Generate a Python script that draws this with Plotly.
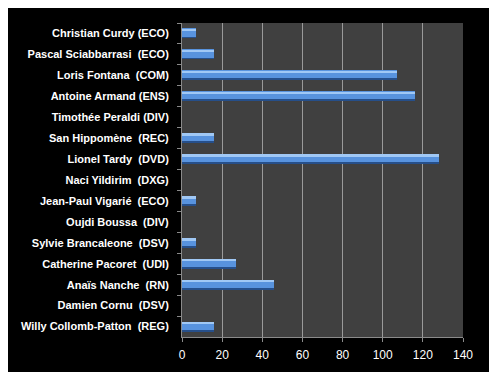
import plotly.graph_objects as go

candidates = [
    "Christian Curdy (ECO)",
    "Pascal Sciabbarrasi  (ECO)",
    "Loris Fontana  (COM)",
    "Antoine Armand (ENS)",
    "Timothée Peraldi (DIV)",
    "San Hippomène  (REC)",
    "Lionel Tardy  (DVD)",
    "Naci Yildirim  (DXG)",
    "Jean-Paul Vigarié  (ECO)",
    "Oujdi Boussa  (DIV)",
    "Sylvie Brancaleone  (DSV)",
    "Catherine Pacoret  (UDI)",
    "Anaïs Nanche  (RN)",
    "Damien Cornu  (DSV)",
    "Willy Collomb-Patton  (REG)",
]
votes = [7, 16, 107, 116, 0, 16, 128, 0, 7, 0, 7, 27, 46, 0, 16]
x_ticks = [0, 20, 40, 60, 80, 100, 120, 140]

# figure sits inside the page's default 8px body margin
W, H = 481, 364
L, R, T, B = 173.7, 455.0, 15.0, 329.0

fig = go.Figure()
# dark bottom edge
fig.add_trace(go.Bar(y=candidates, x=votes, orientation="h", width=0.48, offset=-0.24,
                     marker=dict(color="#264f8a", line=dict(width=0)), hoverinfo="skip"))
# main body
fig.add_trace(go.Bar(y=candidates, x=votes, orientation="h", width=0.39, offset=-0.24,
                     marker=dict(color="#5893de", line=dict(width=0)), hoverinfo="skip"))
# highlight
fig.add_trace(go.Bar(y=candidates, x=votes, orientation="h", width=0.09, offset=-0.2,
                     marker=dict(color="#a0c8f5", line=dict(width=0)), hoverinfo="skip"))

fig.update_layout(
    width=W, height=H,
    margin=dict(l=L, r=W - R, t=T, b=H - B, pad=0),
    paper_bgcolor="black",
    plot_bgcolor="#404040",
    barmode="overlay",
    bargap=0,
    showlegend=False,
    font=dict(family="Liberation Sans, Arial, sans-serif", color="white"),
)
fig.update_xaxes(
    range=[0, 140], tickvals=x_ticks, ticktext=[str(v) for v in x_ticks],
    showgrid=True, gridcolor="#9a9a9a", gridwidth=1,
    zeroline=False, showline=True, linecolor="#8a8a8a", linewidth=1,
    ticks="outside", ticklen=4, tickcolor="#8a8a8a",
    tickfont=dict(size=12, color="white"),
    ticklabelstandoff=3,
    automargin=False, fixedrange=True,
)
fig.update_yaxes(
    autorange="reversed", showgrid=False, zeroline=False,
    showline=True, linecolor="#8a8a8a", linewidth=1,
    ticks="outside", ticklen=4, tickcolor="#8a8a8a", tickson="boundaries",
    tickfont=dict(size=11, color="white", weight="bold"),
    ticklabelstandoff=10,
    automargin=False, fixedrange=True,
)

fig.write_html("out.html")
